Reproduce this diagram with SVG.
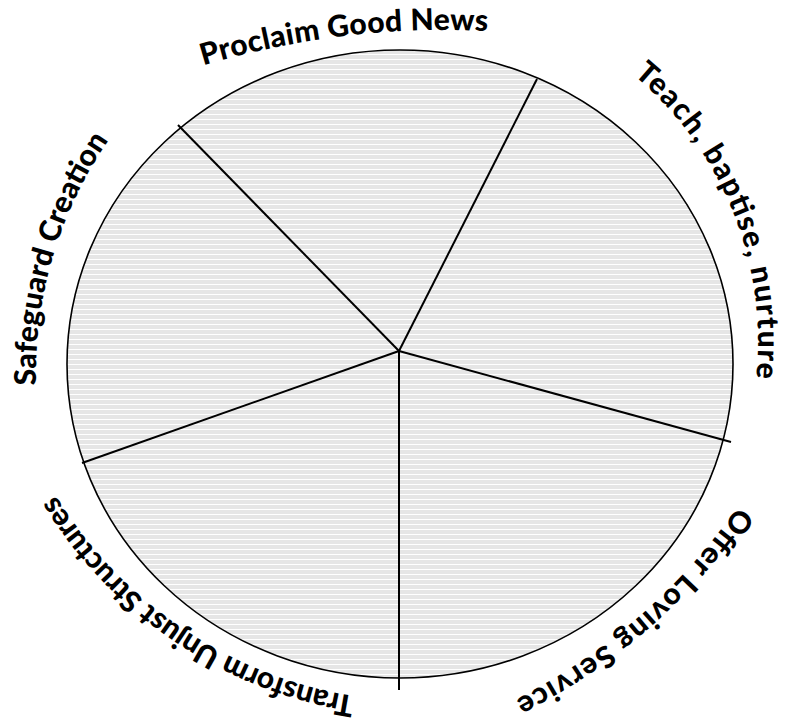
<svg xmlns="http://www.w3.org/2000/svg" xmlns:xlink="http://www.w3.org/1999/xlink" width="787" height="727" viewBox="0 0 787 727">
  <style>
    .lbl { font-family: Lato, "Open Sans", "Liberation Sans", sans-serif; font-weight: 900; font-size: 30px; fill: #000; }
    .spoke { stroke: #000; stroke-width: 2; fill: none; }
  </style>
  <defs>
    <pattern id="stripes" patternUnits="userSpaceOnUse" width="10" height="5">
      <rect x="0" y="0" width="10" height="5" fill="#e6e6e6"/>
      <rect x="0" y="4" width="10" height="1" fill="#ffffff"/>
    </pattern>
    <path id="pTransform" d="M 385.3,699.9 A 428,428 0 0 1 40.8,468.5"/>
    <path id="pSafeguard" d="M 42.2,444 A 409,409 0 0 1 145.9,94.1"/>
    <path id="pProclaim" d="M 157.7,80.7 A 840,840 0 0 1 535.7,34.9"/>
    <path id="pTeach" d="M 583.5,39.8 A 349,349 0 0 1 744.5,438.2"/>
    <path id="pOffer" d="M 764.5,464.1 A 600,600 0 0 1 469.7,720.4"/>
  </defs>
  <rect width="787" height="727" fill="#ffffff"/>
  <g id="wheel">
    <ellipse cx="400" cy="364" rx="333" ry="314" fill="url(#stripes)" stroke="#000" stroke-width="1.6"/>
  </g>
  <g id="connectors">
    <line class="spoke" x1="399" y1="351" x2="537" y2="79"/>
    <line class="spoke" x1="399" y1="351" x2="178" y2="125"/>
    <line class="spoke" x1="399" y1="351" x2="731" y2="442"/>
    <line class="spoke" x1="399" y1="351" x2="82" y2="463"/>
    <line class="spoke" x1="399" y1="351" x2="399" y2="690"/>
  </g>
  <g id="transform">
    <text class="lbl"><textPath href="#pTransform" xlink:href="#pTransform" startOffset="50%" text-anchor="middle" textLength="372" lengthAdjust="spacing">Transform Unjust Structures</textPath></text>
  </g>
  <g id="safeguard">
    <text class="lbl"><textPath href="#pSafeguard" xlink:href="#pSafeguard" startOffset="50%" text-anchor="middle" textLength="260" lengthAdjust="spacing">Safeguard Creation</textPath></text>
  </g>
  <g id="proclaim">
    <text class="lbl"><textPath href="#pProclaim" xlink:href="#pProclaim" startOffset="50%" text-anchor="middle" textLength="288" lengthAdjust="spacing">Proclaim Good News</textPath></text>
  </g>
  <g id="teach">
    <text class="lbl"><textPath href="#pTeach" xlink:href="#pTeach" startOffset="50%" text-anchor="middle" textLength="340" lengthAdjust="spacing">Teach, baptise, nurture</textPath></text>
  </g>
  <g id="offer">
    <text class="lbl"><textPath href="#pOffer" xlink:href="#pOffer" startOffset="50%" text-anchor="middle" textLength="298" lengthAdjust="spacing">Offer Loving Service</textPath></text>
  </g>
</svg>
